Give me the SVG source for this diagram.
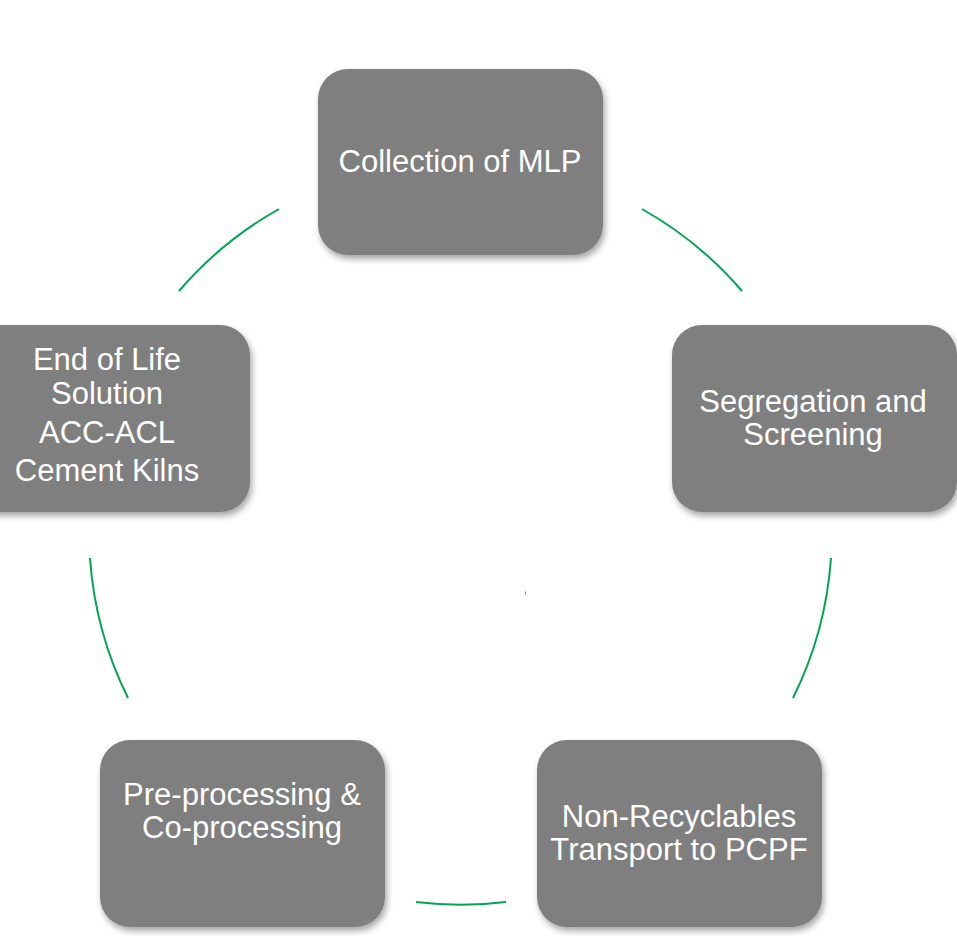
<svg xmlns="http://www.w3.org/2000/svg" width="957" height="936" viewBox="0 0 957 936">
<defs>
<filter id="sh" x="-10%" y="-10%" width="125%" height="130%">
<feDropShadow dx="2" dy="4" stdDeviation="3" flood-color="#000" flood-opacity="0.35"/>
</filter>
<style>
.box{fill:#7f7f7f;filter:url(#sh);}
.t{fill:#ffffff;font-family:"Liberation Sans",Arial,sans-serif;font-size:31px;text-anchor:middle;}
.arc{fill:none;stroke:#00a651;stroke-width:2;}
</style>
</defs>
<rect width="957" height="936" fill="#ffffff"/>
<g id="connectors">
<path class="arc" d="M642,209 A372,372 0 0 1 742,291"/>
<path class="arc" d="M831,558 A372,372 0 0 1 793,698"/>
<path class="arc" d="M506,902 A372,372 0 0 1 416,902"/>
<path class="arc" d="M128,698 A372,372 0 0 1 90,558"/>
<path class="arc" d="M179,291 A372,372 0 0 1 279,209"/>
</g>
<g id="node-collection">
<rect class="box" x="318" y="69" width="285" height="186" rx="30"/>
<text class="t" x="460" y="172">Collection of MLP</text>
</g>
<g id="node-segregation">
<rect class="box" x="672" y="325" width="285" height="187" rx="30"/>
<text class="t" x="813" y="412">Segregation and</text>
<text class="t" x="813" y="445">Screening</text>
</g>
<g id="node-transport">
<rect class="box" x="537" y="740" width="285" height="187" rx="30"/>
<text class="t" x="679" y="827">Non-Recyclables</text>
<text class="t" x="679" y="860">Transport to PCPF</text>
</g>
<g id="node-preprocessing">
<rect class="box" x="100" y="740" width="285" height="187" rx="30"/>
<text class="t" x="242" y="805">Pre-processing &amp;</text>
<text class="t" x="242" y="838">Co-processing</text>
</g>
<g id="node-endoflife">
<rect class="box" x="-35" y="325" width="285" height="187" rx="30"/>
<text class="t" x="107" y="370">End of Life</text>
<text class="t" x="107" y="404">Solution</text>
<text class="t" x="107" y="443">ACC-ACL</text>
<text class="t" x="107" y="481">Cement Kilns</text>
</g>
<rect x="525" y="591.5" width="1" height="3" fill="#8a8a8a"/>
</svg>
